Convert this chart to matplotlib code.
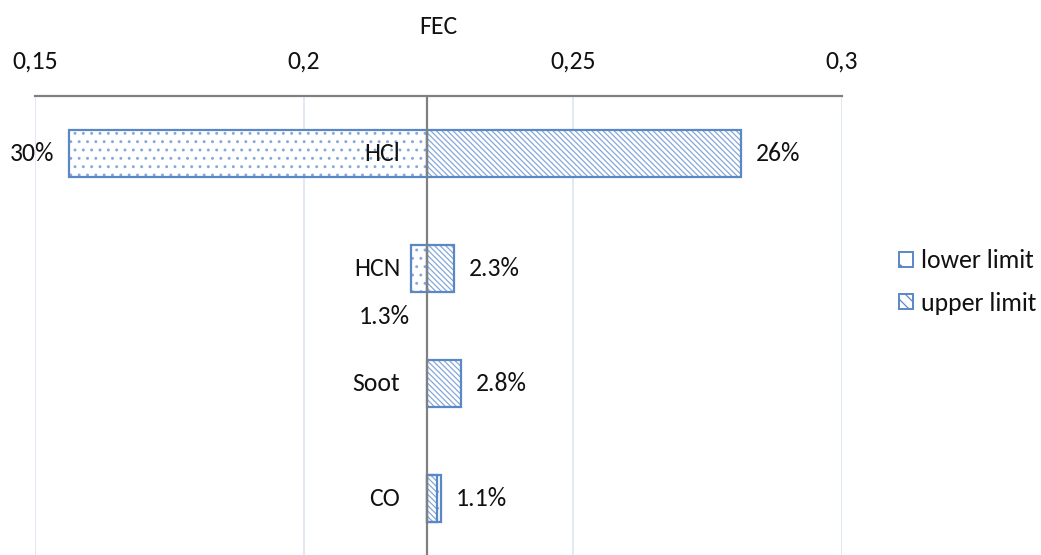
import matplotlib
matplotlib.use("Agg")
import matplotlib.pyplot as plt
from matplotlib.patches import Patch

categories = ["HCl", "HCN", "Soot", "CO"]
base_value = 0.2229
lower_values = [0.1563, 0.2199, 0.2229, 0.2254]
upper_values = [0.2812, 0.2279, 0.2291, 0.2248]
lower_labels = ["30%", "1.3%", "", ""]
upper_labels = ["26%", "2.3%", "2.8%", "1.1%"]
x_ticks = [0.15, 0.2, 0.25, 0.3]
x_tick_labels = ["0,15", "0,2", "0,25", "0,3"]

plt.rcParams['font.family'] = ['Carlito', 'Archivo Narrow', 'Liberation Sans', 'DejaVu Sans']
plt.rcParams['hatch.linewidth'] = 0.9

edge = "#5A87C6"
hatch_col = "#86A8DA"
txt = "#111111"
fs = 18.5

fig = plt.figure(figsize=(10.41, 5.55), dpi=100)
ax = fig.add_axes([35/1041, -0.002, (842-35)/1041, 1 - 96/555 + 0.002])

h = 0.41
dots = ".."
diag = "\\\\\\\\\\\\"


def draw(i, val, hatch):
    ax.barh(i, val - base_value, left=base_value, height=h, color="white",
            edgecolor=hatch_col, hatch=hatch, linewidth=0, zorder=3)
    ax.barh(i, val - base_value, left=base_value, height=h, color="none",
            edgecolor=edge, linewidth=1.6, zorder=4)


for i, cat in enumerate(categories):
    lo, up = lower_values[i], upper_values[i]
    if abs(lo - base_value) > 1e-6:
        draw(i, lo, dots)
    if abs(up - base_value) > 1e-6:
        draw(i, up, diag)
    ax.text(base_value - 0.005, i, cat, ha="right", va="center", fontsize=fs,
            color=txt, zorder=5)
    right_end = max(lo, up)
    if upper_labels[i]:
        ax.text(right_end + 0.0028, i, upper_labels[i], ha="left", va="center",
                fontsize=fs, color=txt, zorder=5)
    if lower_labels[i]:
        if lo < base_value - 0.01:
            ax.text(lo - 0.0027, i, lower_labels[i], ha="right", va="center",
                    fontsize=fs, color=txt, zorder=5)
        else:
            ax.text(base_value - 0.0079, i + 0.42, lower_labels[i], ha="center",
                    va="center", fontsize=fs, color=txt, zorder=5)

ax.axvline(base_value, color="#808080", linewidth=1.6, zorder=6)

ax.set_xlim(0.15, 0.3)
ax.set_ylim(len(categories) - 0.5, -0.5)
ax.xaxis.tick_top()
ax.xaxis.set_label_position("top")
ax.set_xticks(x_ticks)
ax.set_xticklabels(x_tick_labels, fontsize=fs, color=txt)
ax.tick_params(axis="x", length=0, pad=17)
ax.set_yticks([])
ax.set_xlabel("FEC", fontsize=fs, color=txt, labelpad=11)
ax.grid(axis="x", color="#DCE5F3", linewidth=1.2, zorder=0)
ax.set_axisbelow(True)
for s in ["left", "right", "bottom"]:
    ax.spines[s].set_visible(False)
ax.spines["top"].set_color("#808080")
ax.spines["top"].set_linewidth(1.6)

handles = [Patch(facecolor="white", edgecolor=edge, hatch=".", linewidth=1.4),
           Patch(facecolor="white", edgecolor=edge, hatch="\\\\\\", linewidth=1.4)]
fig.legend(handles, ["lower limit", "upper limit"], loc="center left",
           bbox_to_anchor=(899/1041, 1 - 282/555), frameon=False, fontsize=fs,
           borderpad=0, borderaxespad=0,
           handlelength=0.55, handleheight=0.55, handletextpad=0.3, labelspacing=0.75,
           labelcolor=txt)

fig.savefig("out.png", dpi=100)
